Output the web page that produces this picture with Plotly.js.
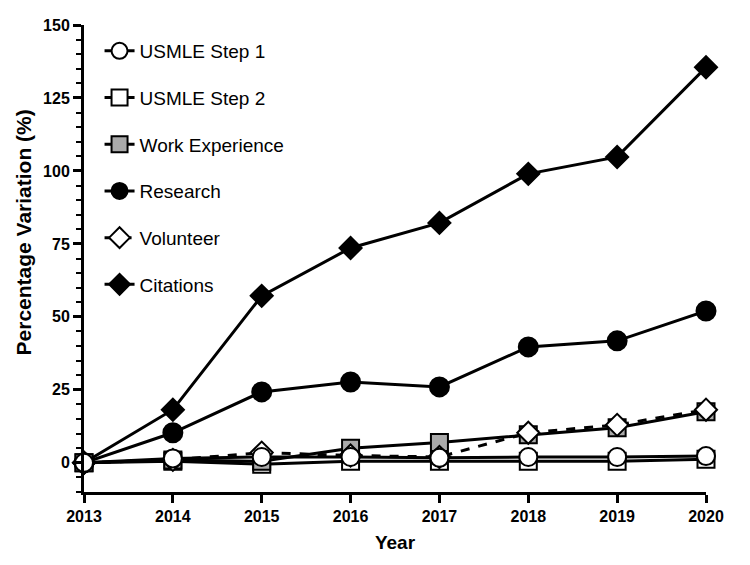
<!DOCTYPE html>
<html>
<head>
<meta charset="utf-8">
<script src="https://cdn.plot.ly/plotly-3.0.1.min.js"></script>
<style>html,body{margin:0;padding:0;background:#fff;}#chart{width:750px;height:565px;}</style>
</head>
<body>
<div id="chart"></div>
<script>
const years = [2013, 2014, 2015, 2016, 2017, 2018, 2019, 2020];
const step1 = [0, 1.5, 2, 2, 1.7, 2, 2, 2.3];
const step2 = [0, 0.5, -0.5, 0.5, 0.5, 0.5, 0.5, 1.2];
const workExperience = [0, 1, 0.5, 5, 7, 9.6, 12, 17.5];
const research = [0, 10.3, 24.3, 27.7, 26, 39.7, 41.8, 52];
const volunteer = [0, 1, 3.5, 2.5, 2, 10.3, 13, 18.2];
const citations = [0, 18.2, 57.2, 73.6, 82.2, 99, 104.8, 135.5];
const yTicks = [0, 25, 50, 75, 100, 125, 150];

const LBL = '"Liberation Sans Narrow", "Arial Narrow", "Liberation Sans", Arial, sans-serif';
const LEG = '"Liberation Sans", Arial, sans-serif';

function tr(name, y, symbol, fill, size, dash, rank) {
  return {
    x: years, y: y, name: name, type: 'scatter', mode: 'lines+markers',
    cliponaxis: false, legendgroup: name, legendrank: rank,
    line: {color: '#000', width: 3, dash: dash},
    marker: {symbol: symbol, size: size, color: fill, line: {color: '#000', width: 2}}
  };
}

const data = [
  tr('Citations', citations, 'diamond', '#000', 17, 'solid', 6),
  tr('Research', research, 'circle', '#000', 19, 'solid', 4),
  tr('USMLE Step 2', step2, 'square', '#fff', 17, 'solid', 2),
  tr('Work Experience', workExperience, 'square', '#aaa', 17, 'solid', 3),
  tr('Volunteer', volunteer, 'diamond', '#fff', 17, 'dash', 5),
  tr('USMLE Step 1', step1, 'circle', '#fff', 18, 'solid', 1)
];

const layout = {
  width: 750, height: 565,
  margin: {l: 84, r: 44, t: 25, b: 73},
  paper_bgcolor: '#fff', plot_bgcolor: '#fff',
  showlegend: true,
  legend: {x: 0.025, y: 0.985, xanchor: 'left', yanchor: 'top', bgcolor: 'rgba(0,0,0,0)',
           font: {family: LEG, size: 19, color: '#000'}, tracegroupgap: 19, itemwidth: 30,
           traceorder: 'grouped'},
  xaxis: {
    range: [2013, 2020], tickvals: years, ticktext: years.map(String),
    showgrid: false, zeroline: false, showline: true, linecolor: '#000', linewidth: 3,
    ticks: 'outside', ticklen: 8, tickwidth: 3, tickcolor: '#000',
    tickfont: {family: LBL, size: 16, color: '#000', weight: 'bold'},
    title: {text: '<b>Year</b>', font: {family: LBL, size: 19, color: '#000'}, standoff: 12}
  },
  yaxis: {
    range: [-10, 150], tickvals: yTicks, ticktext: yTicks.map(String),
    showgrid: false, zeroline: false, showline: true, linecolor: '#000', linewidth: 3,
    ticks: 'outside', ticklen: 8, tickwidth: 3, tickcolor: '#000',
    minor: {dtick: 5, tick0: 0, ticks: 'outside', ticklen: 5, tickwidth: 2, tickcolor: '#000', showgrid: false},
    tickfont: {family: LBL, size: 16, color: '#000', weight: 'bold'}
  },
  annotations: [{
    text: '<b>Percentage Variation (%)</b>', xref: 'paper', yref: 'paper',
    x: -0.097, y: 0.555, xanchor: 'center', yanchor: 'middle', textangle: -90,
    showarrow: false, font: {family: LEG, size: 21, color: '#000'}
  }]
};

Plotly.newPlot('chart', data, layout, {displayModeBar: false, staticPlot: true});
</script>
</body>
</html>
